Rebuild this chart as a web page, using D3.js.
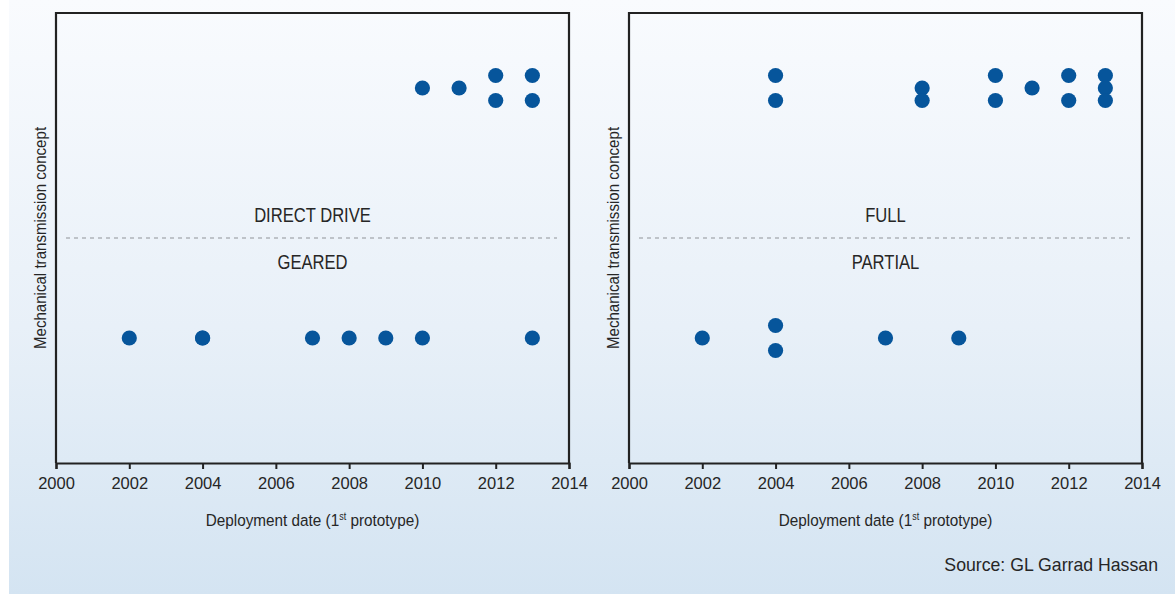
<!DOCTYPE html>
<html>
<head>
<meta charset="utf-8">
<script src="https://cdn.jsdelivr.net/npm/d3@7"></script>
<style>
  html, body { margin: 0; padding: 0; background: #ffffff; }
  svg { display: block; }
  text { font-family: "Liberation Sans", Arial, sans-serif; fill: #262626; }
</style>
</head>
<body>
<svg id="chart" width="1175" height="594"></svg>
<script>
// Deployment years of the first prototypes, with a stacking row for each dot.
// Rows 29-31 sit in the upper band, rows 9-11 in the lower band.
const xTicks = [2000, 2002, 2004, 2006, 2008, 2010, 2012, 2014];

// Panel 1: drive train concept
const driveBandLabels = ["DIRECT DRIVE", "GEARED"];
const directDriveYears = [2010, 2011, 2012, 2012, 2013, 2013];
const directDriveRows  = [30, 30, 31, 29, 31, 29];
const gearedYears = [2002, 2004, 2004, 2007, 2008, 2009, 2010, 2013];
const gearedRows  = [10, 10, 10, 10, 10, 10, 10, 10];

// Panel 2: power converter rating
const converterBandLabels = ["FULL", "PARTIAL"];
const fullYears = [2004, 2004, 2008, 2008, 2010, 2010, 2011, 2012, 2012, 2013, 2013, 2013];
const fullRows  = [31, 29, 30, 29, 31, 29, 30, 31, 29, 31, 30, 29];
const partialYears = [2002, 2004, 2004, 2007, 2009];
const partialRows  = [10, 11, 9, 10, 10];

const yTitle = "Mechanical transmission concept";
const sourceText = "Source: GL Garrad Hassan";

const svg = d3.select("#chart");
const W = 1175, H = 594;

// Soft vertical background wash
const defs = svg.append("defs");
const grad = defs.append("linearGradient")
  .attr("id", "bg").attr("x1", 0).attr("y1", 0).attr("x2", 0).attr("y2", 1);
grad.append("stop").attr("offset", "0%").attr("stop-color", "#f9fbfe");
grad.append("stop").attr("offset", "55%").attr("stop-color", "#e8f0f8");
grad.append("stop").attr("offset", "100%").attr("stop-color", "#d4e4f2");
svg.append("rect").attr("x", 9).attr("y", 0).attr("width", W - 9).attr("height", H)
  .attr("fill", "url(#bg)");

const rowDomain = [0, 36];
const divider = 18;
const dotColor = "#06559b";

// Condensed label: regular face squeezed horizontally
function narrowText(parent, x, y, str, size, squeeze) {
  return parent.append("g").attr("transform", `translate(${x},${y}) scale(${squeeze},1)`)
    .append("text").attr("text-anchor", "middle").attr("font-size", size).text(str);
}

function drawPanel(left, right, bands, upper, lower) {
  const top = 13, bottom = 463;
  const x = d3.scaleLinear().domain([2000, 2014]).range([left, right]);
  const y = d3.scaleLinear().domain(rowDomain).range([bottom, top]);
  const g = svg.append("g");

  // Frame: left, top and right edges
  g.append("path")
    .attr("d", `M${left},${bottom} V${top} H${right} V${bottom}`)
    .attr("fill", "none").attr("stroke", "#222").attr("stroke-width", 2.2);

  // Bottom axis
  const axis = d3.axisBottom(x).tickValues(xTicks).tickFormat(d3.format("d"))
    .tickSize(6).tickPadding(8);
  const ax = g.append("g").attr("transform", `translate(0,${bottom})`).call(axis);
  ax.select(".domain").attr("stroke", "#222").attr("stroke-width", 2.2);
  ax.selectAll(".tick line").attr("stroke", "#222").attr("stroke-width", 2);
  ax.selectAll(".tick text")
    .attr("font-size", 16.5).attr("font-family", "Liberation Sans, Arial, sans-serif")
    .attr("fill", "#262626");

  // Axis titles
  const cx = (left + right) / 2;
  const xt = narrowText(g, cx, 526, null, 17, 0.9);
  xt.append("tspan").text("Deployment date (1");
  xt.append("tspan").text("st").attr("font-size", 10).attr("dy", -6.5);
  xt.append("tspan").text(" prototype)").attr("dy", 6.5);

  g.append("g")
    .attr("transform", `translate(${left - 10},${y(divider)}) rotate(-90) scale(0.92,1)`)
    .append("text").attr("text-anchor", "middle").attr("font-size", 16.4)
    .text(yTitle);

  // Band divider and labels
  g.append("line")
    .attr("x1", left + 10).attr("x2", right - 12)
    .attr("y1", y(divider)).attr("y2", y(divider))
    .attr("stroke", "#8f9398").attr("stroke-width", 1.1).attr("stroke-dasharray", "4,4");
  narrowText(g, cx, y(divider) - 16, bands[0], 20, 0.83);
  narrowText(g, cx, y(divider) + 31, bands[1], 20, 0.83);

  // Prototype dots
  const pts = upper.years.map((yr, i) => ({ yr, row: upper.rows[i] }))
    .concat(lower.years.map((yr, i) => ({ yr, row: lower.rows[i] })));
  g.selectAll("circle.dot").data(pts).join("circle")
    .attr("class", "dot")
    .attr("cx", d => x(d.yr)).attr("cy", d => y(d.row))
    .attr("r", 7.6).attr("fill", dotColor);
}

drawPanel(56, 569, driveBandLabels,
  { years: directDriveYears, rows: directDriveRows },
  { years: gearedYears, rows: gearedRows });
drawPanel(629, 1142, converterBandLabels,
  { years: fullYears, rows: fullRows },
  { years: partialYears, rows: partialRows });

svg.append("text").attr("x", 1158).attr("y", 571)
  .attr("text-anchor", "end").attr("font-size", 17.7)
  .text(sourceText);
</script>
</body>
</html>
